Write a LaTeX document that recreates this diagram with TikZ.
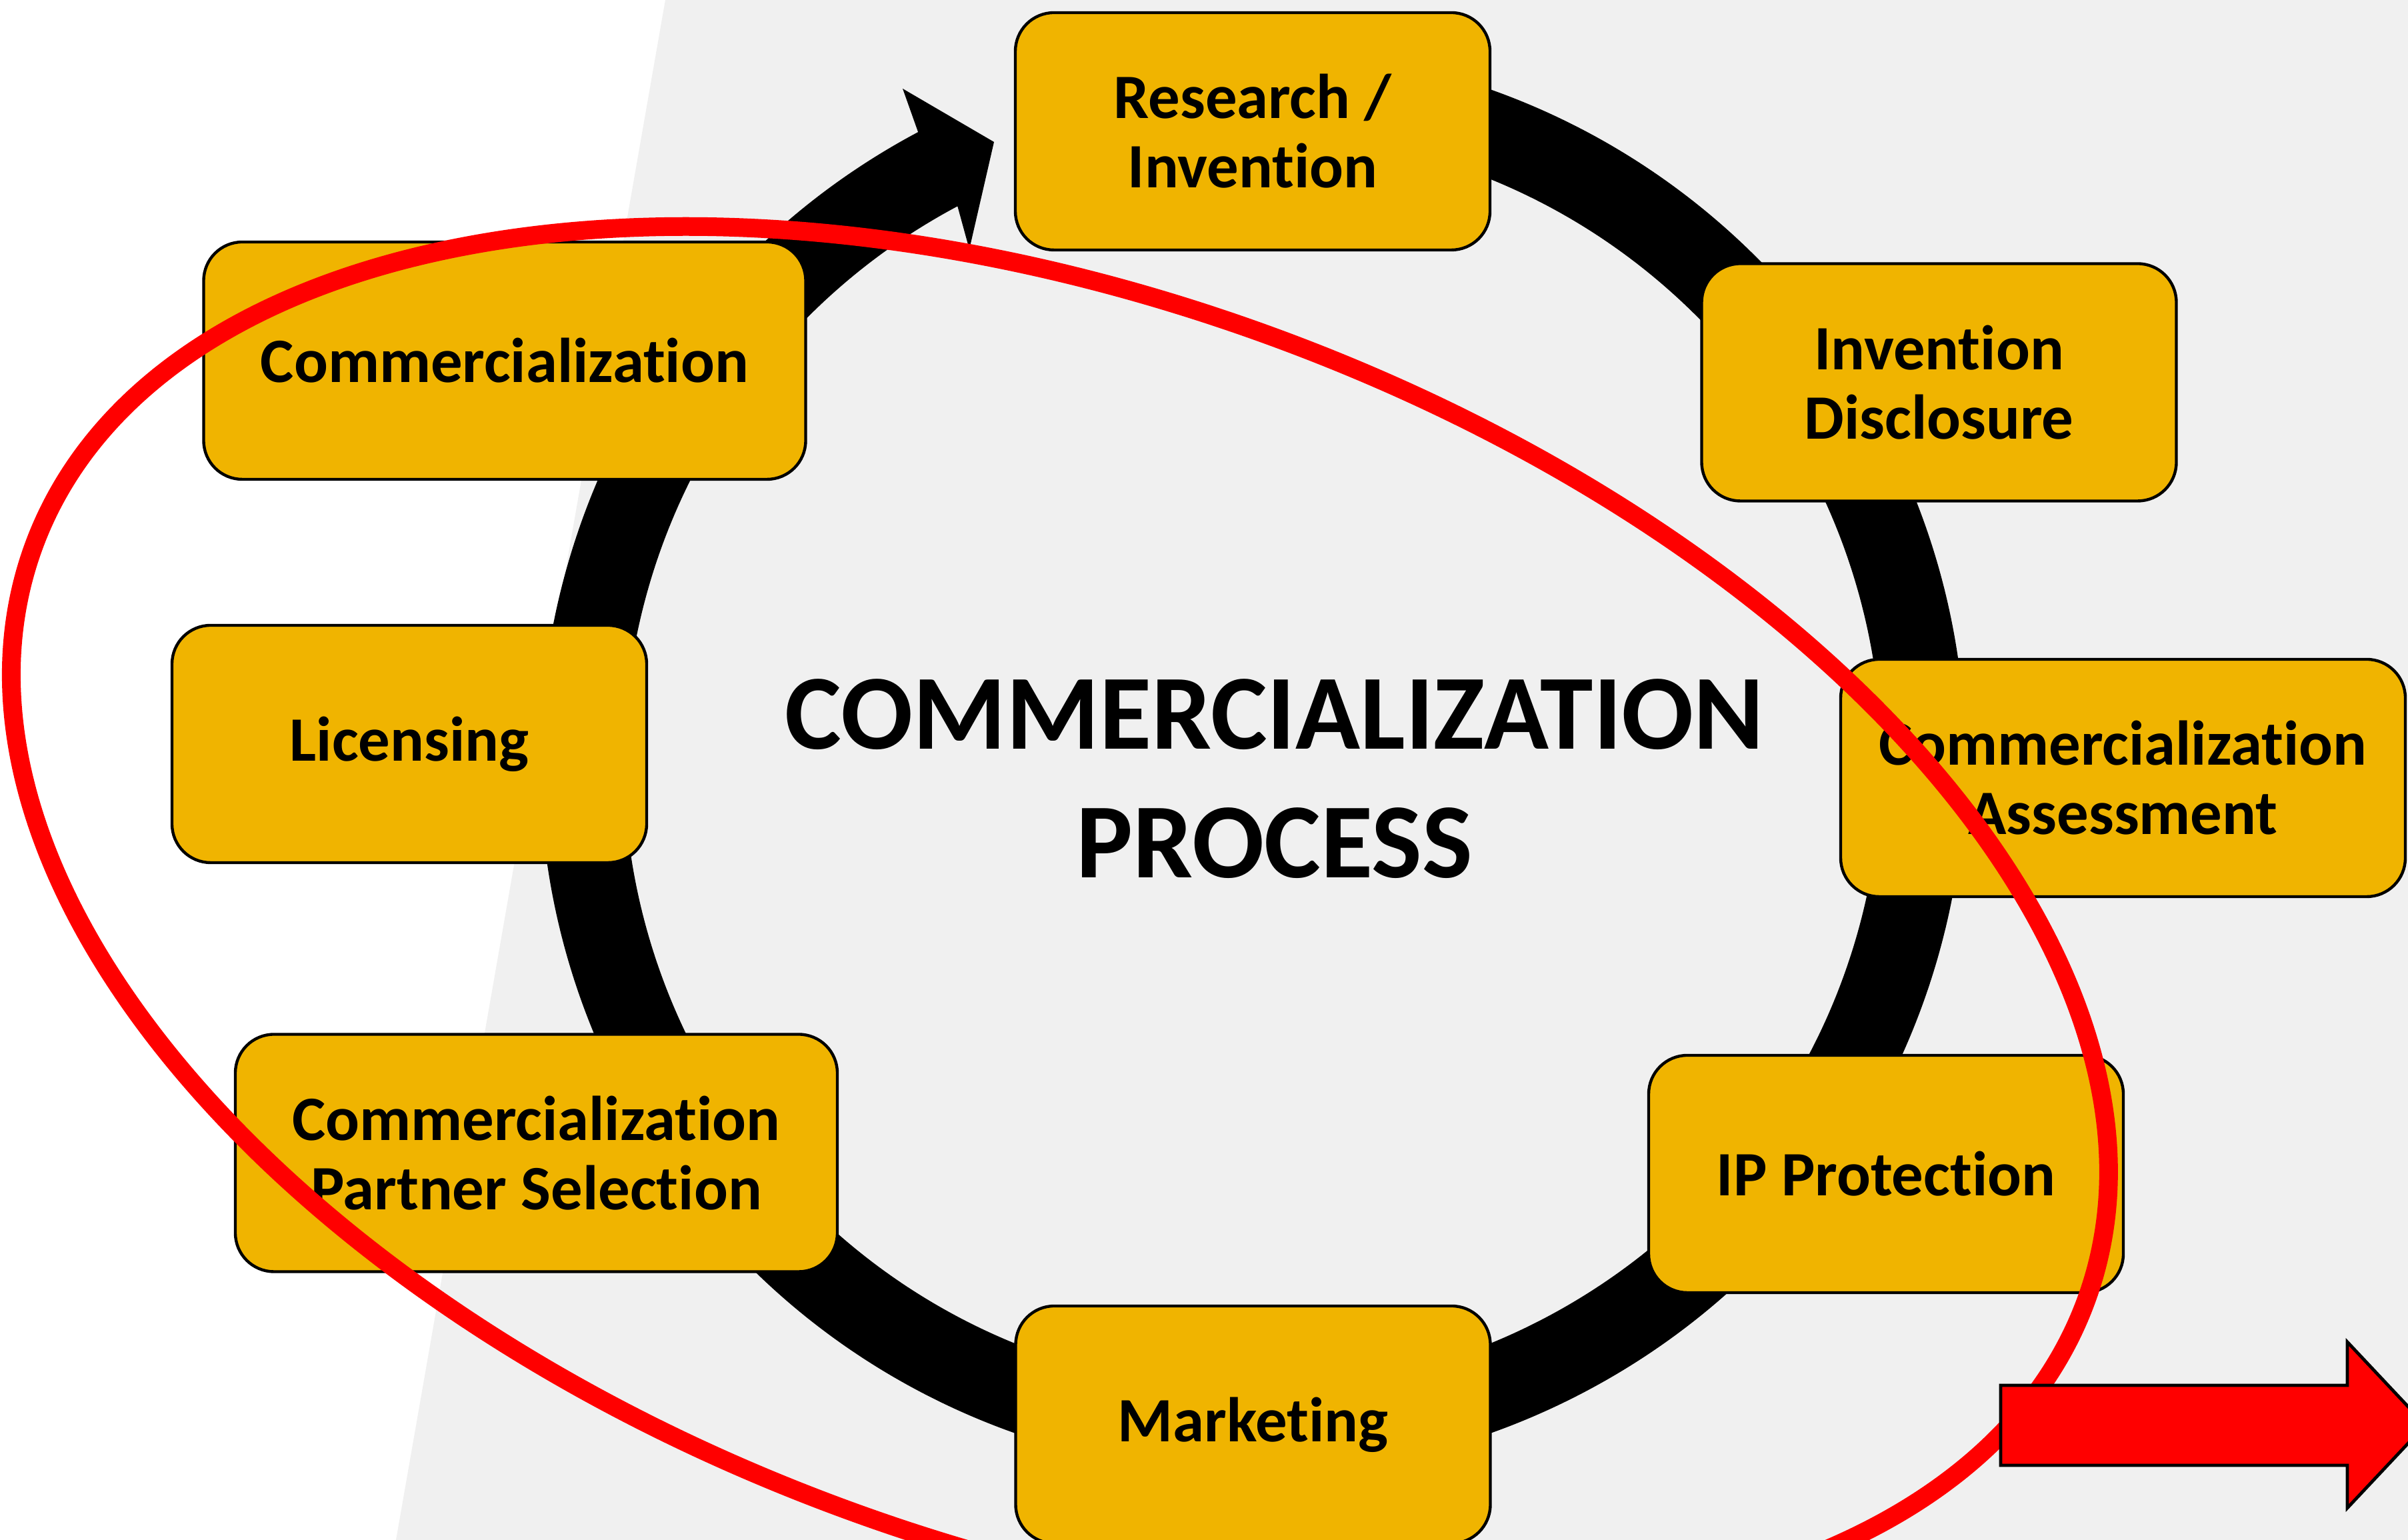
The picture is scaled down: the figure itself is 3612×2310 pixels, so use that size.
\documentclass[tikz,border=0pt]{standalone}
\usepackage{fontspec}
\setmainfont{Carlito}[RawFeature={-liga}]
\definecolor{boxgold}{HTML}{F0B400}
\definecolor{bggray}{HTML}{F0F0F0}
\definecolor{hotred}{HTML}{FF0000}
\begin{document}
\begin{tikzpicture}[x=0.25pt,y=0.25pt,
  stage/.style={draw=black, line width=1.1pt, fill=boxgold, rounded corners=14.5pt,
    minimum width=178pt, minimum height=89pt, inner sep=0pt, align=center,
    font=\fontsize{23.7}{26}\selectfont\bfseries},
  widestage/.style={stage, minimum width=225.75pt},
  titletext/.style={align=center, inner sep=0pt, font=\fontsize{40}{48.4}\selectfont\bfseries},
  redloop/.style={draw=hotred, line width=7pt},
  blockarrow/.style={fill=hotred, draw=black, line width=1.2pt, line join=miter}]
\useasboundingbox (0,0) rectangle (3612,2310);
\clip (0,0) rectangle (3612,2310);
% background
\fill[white] (0,0) rectangle (3612,2310);
\fill[bggray] (998,2310) -- (3612,2310) -- (3612,0) -- (594,0) -- cycle;
% circular arrow
\coordinate (ctr) at (1879,1168);
\fill[black] (ctr) ++(118:267.25pt) arc[start angle=118, end angle=440, radius=267.25pt]
  -- ++(440:-31.5pt) arc[start angle=440, end angle=118, radius=235.75pt]
  -- (1454,1936) -- (1491,2097) -- (1354,2177) -- cycle;
% stages
\node[stage] (res) at (1879,2113) {Research /\\Invention};
\node[stage] (disc) at (2908.5,1736.5) {Invention\\Disclosure};
\node[stage, minimum width=211.75pt] (assess) at (3184.5,1143) {Commercialization\\Assessment};
\node[stage] (ip) at (2829,549) {IP Protection};
\node[stage] (mkt) at (1879.5,173) {Marketing};
\node[widestage] (partner) at (804.5,580.5) {Commercialization\\Partner Selection};
\node[stage] (lic) at (614,1194) {Licensing};
\node[widestage] (comm) at (757,1769) {Commercialization};
% title
\node[titletext] (title) at (1912,1142) {COMMERCIALIZATION\\PROCESS};
% red ellipse
\coordinate (ellc) at (1590,925);
\draw[redloop, rotate around={-20.2:(ellc)}] (ellc) ellipse [x radius=410pt, y radius=234pt];
% red block arrow
\draw[blockarrow] (3001,232) -- (3521,232) -- (3521,297) -- (3638,172.5) -- (3521,48) -- (3521,112) -- (3001,112) -- cycle;
\end{tikzpicture}
\end{document}
